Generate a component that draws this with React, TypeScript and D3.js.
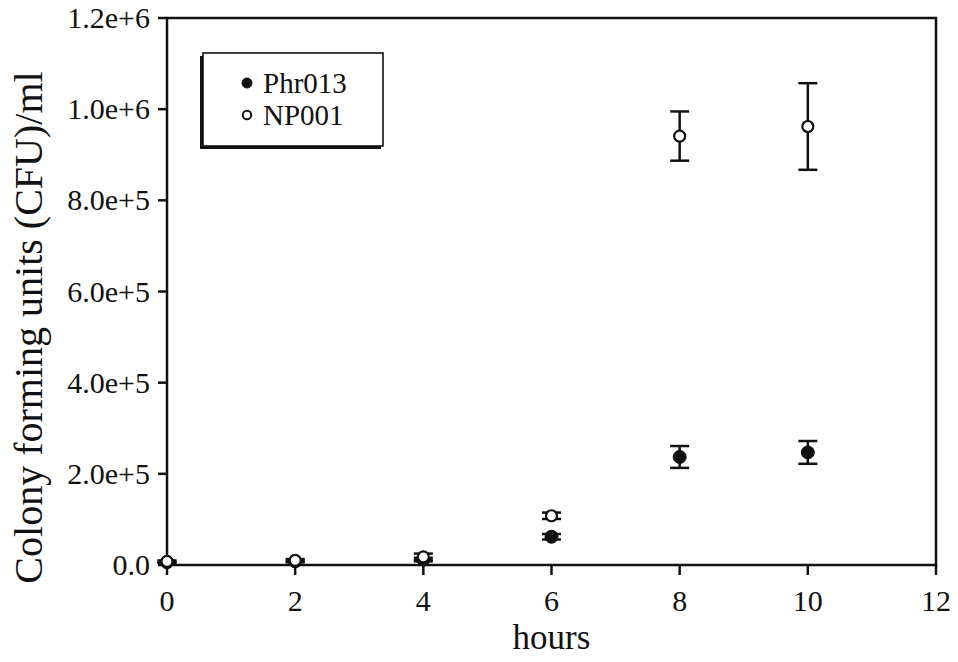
import React, { useRef, useEffect } from 'react';
import * as d3 from 'd3';

// sampling times (hours)
const hours = [0, 2, 4, 6, 8, 10];

// CFU/ml means and error (+/-) per strain
const phr013 = [6000, 8000, 12000, 62000, 237000, 247000];
const phr013Err = [1500, 2000, 4000, 6000, 24000, 25000];
const np001 = [8000, 10000, 18000, 108000, 941000, 962000];
const np001Err = [2000, 3000, 7000, 7000, 54000, 95000];

const xTicks = [0, 2, 4, 6, 8, 10, 12];
const yTicks = [0, 200000, 400000, 600000, 800000, 1000000, 1200000];

const seriesNames = ['Phr013', 'NP001'];

const W = 958;
const H = 662;

const App = () => {
    const svgRef = useRef<SVGSVGElement>(null);

    useEffect(() => {
        const svg = d3.select(svgRef.current);
        svg.selectAll('*').remove();

        const left = 167, right = 936, top = 18, bottom = 565;
        const font = 'Liberation Serif, Times New Roman, serif';
        const ink = '#111';

        const x = d3.scaleLinear().domain([0, 12]).range([left, right]);
        const y = d3.scaleLinear().domain([0, 1200000]).range([bottom, top]);

        const fmt = (v: number) => (v === 0 ? '0.0' : d3.format('.1e')(v));

        // frame
        svg.append('rect')
            .attr('x', left).attr('y', top)
            .attr('width', right - left).attr('height', bottom - top)
            .attr('fill', 'none').attr('stroke', ink).attr('stroke-width', 2.5);

        // x ticks + labels
        const xg = svg.append('g');
        xg.selectAll('line').data(xTicks).enter().append('line')
            .attr('x1', (d) => x(d)).attr('x2', (d) => x(d))
            .attr('y1', bottom).attr('y2', bottom + 10)
            .attr('stroke', ink).attr('stroke-width', 2.5);
        xg.selectAll('text').data(xTicks).enter().append('text')
            .attr('x', (d) => x(d)).attr('y', 611)
            .attr('text-anchor', 'middle')
            .attr('font-family', font).attr('font-size', 30)
            .attr('fill', ink)
            .text((d) => d);

        // y ticks + labels
        const yg = svg.append('g');
        yg.selectAll('line').data(yTicks).enter().append('line')
            .attr('x1', left - 9).attr('x2', left)
            .attr('y1', (d) => y(d)).attr('y2', (d) => y(d))
            .attr('stroke', ink).attr('stroke-width', 2.5);
        yg.selectAll('text').data(yTicks).enter().append('text')
            .attr('x', 150).attr('y', (d) => y(d) + 10)
            .attr('text-anchor', 'end')
            .attr('font-family', font).attr('font-size', 30)
            .attr('fill', ink)
            .text((d) => fmt(d));

        // axis titles
        svg.append('text')
            .attr('x', x(6)).attr('y', 649)
            .attr('text-anchor', 'middle')
            .attr('font-family', font).attr('font-size', 35)
            .attr('fill', ink)
            .text('hours');
        svg.append('text')
            .attr('transform', `translate(42, ${(68 + 587) / 2}) rotate(-90)`)
            .attr('text-anchor', 'middle')
            .attr('font-family', font).attr('font-size', 40)
            .attr('fill', ink)
            .text('Colony forming units (CFU)/ml');

        // error bars + markers
        const drawSeries = (vals: number[], errs: number[], open: boolean) => {
            const g = svg.append('g');
            const pts = hours.map((h, i) => ({ h, v: vals[i], e: errs[i] }));
            const capW = 9.5;
            pts.forEach((p) => {
                const cx = x(p.h);
                const y0 = y(p.v - p.e), y1 = y(p.v + p.e);
                g.append('line').attr('x1', cx).attr('x2', cx).attr('y1', y0).attr('y2', y1)
                    .attr('stroke', ink).attr('stroke-width', 2.5);
                [y0, y1].forEach((yy) => {
                    g.append('line').attr('x1', cx - capW).attr('x2', cx + capW)
                        .attr('y1', yy).attr('y2', yy)
                        .attr('stroke', ink).attr('stroke-width', 2.5);
                });
            });
            g.selectAll('circle').data(pts).enter().append('circle')
                .attr('cx', (d) => x(d.h)).attr('cy', (d) => y(d.v))
                .attr('r', open ? 5.5 : 6.5)
                .attr('fill', open ? '#fff' : ink)
                .attr('stroke', ink).attr('stroke-width', open ? 2.2 : 1);
        };
        drawSeries(phr013, phr013Err, false);
        drawSeries(np001, np001Err, true);

        // legend box with a small drop shadow on the left/bottom
        const lg = svg.append('g');
        lg.append('rect').attr('x', 200).attr('y', 56).attr('width', 181).attr('height', 93)
            .attr('fill', ink);
        lg.append('rect').attr('x', 203).attr('y', 53).attr('width', 180).attr('height', 93)
            .attr('fill', '#fff').attr('stroke', ink).attr('stroke-width', 1.6);
        seriesNames.forEach((name, i) => {
            const yy = 83 + i * 32;
            lg.append('circle').attr('cx', 247).attr('cy', yy).attr('r', i === 0 ? 5 : 4.2)
                .attr('fill', i === 0 ? ink : '#fff')
                .attr('stroke', ink).attr('stroke-width', i === 0 ? 1 : 2);
            lg.append('text').attr('x', 263).attr('y', yy + 10)
                .attr('font-family', font).attr('font-size', 29)
                .attr('fill', ink)
                .text(name);
        });
    }, []);

    return (
        <svg
            ref={svgRef}
            width={W}
            height={H}
            style={{ position: 'absolute', left: 0, top: 0, background: '#fff' }}
        ></svg>
    );
};

export default App;
